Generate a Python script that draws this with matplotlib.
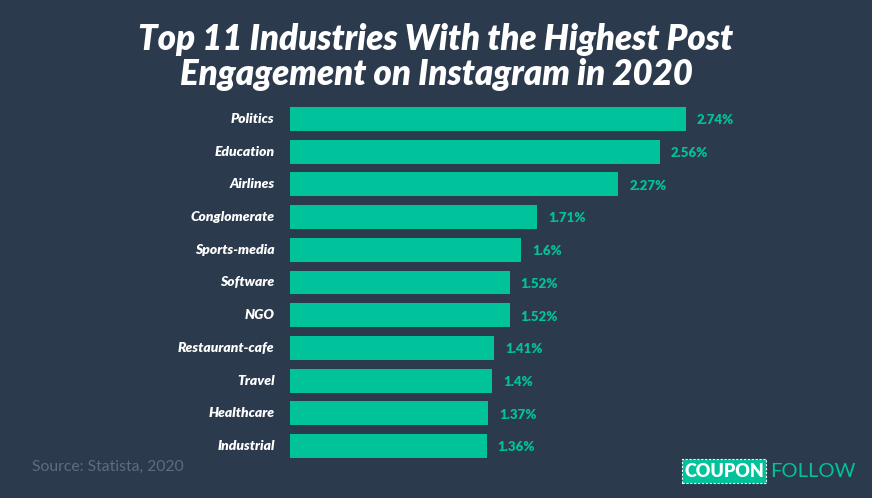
import matplotlib
matplotlib.use("Agg")
import matplotlib.pyplot as plt
from matplotlib.patches import FancyBboxPatch

categories = ["Politics", "Education", "Airlines", "Conglomerate", "Sports-media",
              "Software", "NGO", "Restaurant-cafe", "Travel", "Healthcare", "Industrial"]
values = [2.74, 2.56, 2.27, 1.71, 1.6, 1.52, 1.52, 1.41, 1.4, 1.37, 1.36]
value_labels = ["2.74%", "2.56%", "2.27%", "1.71%", "1.6%", "1.52%", "1.52%",
                "1.41%", "1.4%", "1.37%", "1.36%"]
title = "Top 11 Industries With the Highest Post\nEngagement on Instagram in 2020"
source = "Source: Statista, 2020"

BG = "#2c3a4d"
TEAL = "#00c29b"
FONT = ["Lato", "DejaVu Sans"]

W, H = 872, 498
fig = plt.figure(figsize=(W / 100, H / 100), dpi=100, facecolor=BG)

ax_left, ax_right = 290 / W, 686 / W
ax_top, ax_bot = 1 - 107 / H, 1 - 458 / H
ax = fig.add_axes([ax_left, ax_bot, ax_right - ax_left, ax_top - ax_bot])
ax.set_facecolor(BG)
bh = 0.73
y = list(range(len(categories)))
ax.barh(y, values, height=bh, color=TEAL, edgecolor="none")
ax.set_xlim(0, max(values))
ax.set_ylim(len(categories) - 1 + bh / 2, -bh / 2)
ax.axis("off")

for yi, v, lab, cat in zip(y, values, value_labels, categories):
    ax.annotate(lab, (v, yi), xytext=(8, -1), textcoords="offset points",
                ha="left", va="center", color=TEAL, fontsize=9.5, fontweight="heavy",
                family=FONT, annotation_clip=False)
    ax.annotate(cat, (0, yi), xytext=(-11, 0), textcoords="offset points",
                ha="right", va="center", color="white", fontsize=10,
                fontweight="heavy", fontstyle="italic", family=FONT,
                annotation_clip=False)

fig.text(0.5, 1 - 57 / H, title, ha="center", va="center", color="white",
         fontsize=25, fontweight="heavy", fontstyle="italic", family=FONT,
         linespacing=1.05)

fig.text(32 / W, 1 - 467 / H, source, ha="left", va="center", color="#5d6d80",
         fontsize=11.3, family=FONT)

# logo
box = FancyBboxPatch((682 / W, 1 - 483 / H), 84 / W, 24 / H,
                     boxstyle="square,pad=0", transform=fig.transFigure,
                     facecolor=TEAL, edgecolor="white", linestyle=(0, (2, 1.5)),
                     linewidth=0.8)
fig.add_artist(box)
fig.text(724 / W, 1 - 471 / H, "COUPON", ha="center", va="center", color="white",
         fontsize=13, fontweight="heavy", family=FONT)
fig.text(770 / W, 1 - 471 / H, "FOLLOW", ha="left", va="center", color=TEAL,
         fontsize=14.5, family=FONT)

fig.savefig("out.png", dpi=100, facecolor=BG)
